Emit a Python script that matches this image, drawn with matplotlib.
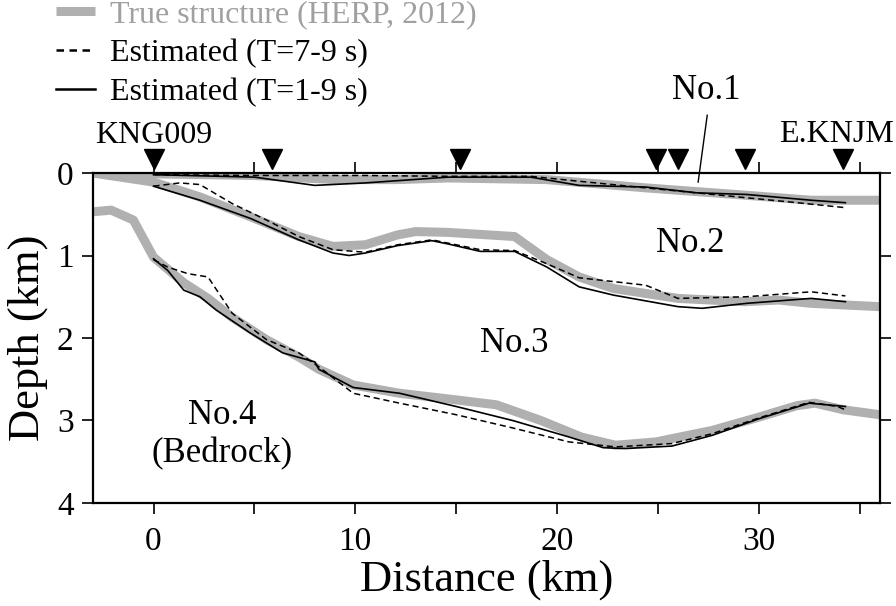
import matplotlib
matplotlib.use("Agg")
import matplotlib.pyplot as plt

plt.rcParams['font.family'] = ['Liberation Serif', 'DejaVu Serif']

# --- true structure (HERP, 2012) ---
true1_x = [-3, 0, 5, 9, 12, 14.6, 19.5, 24.4, 29.4, 32.6, 36]
true1_z = [0.0, 0.01, 0.03, 0.08, 0.08, 0.06, 0.08, 0.18, 0.27, 0.33, 0.33]

true2_x = [-3, 0, 2.3, 4.8, 7.2, 8.9, 10.5, 12.1, 13, 14.6, 17.9, 19.5, 21.1, 22.8, 26, 29.3, 31, 32.6, 36]
true2_z = [0.0, 0.11, 0.29, 0.53, 0.77, 0.89, 0.87, 0.75, 0.71, 0.72, 0.77, 1.05, 1.26, 1.4, 1.52, 1.56, 1.54, 1.58, 1.62]

true3_x = [-3, -2.1, -1, 0, 1.5, 2.7, 3.9, 5.6, 7.2, 8.2, 9.9, 12.2, 15, 17, 19.2, 21.2, 22.9, 24.9, 27.7, 30, 31.9, 32.8, 34.2, 36]
true3_z = [0.47, 0.45, 0.57, 1.02, 1.33, 1.52, 1.75, 2.02, 2.23, 2.38, 2.57, 2.67, 2.75, 2.81, 3.0, 3.2, 3.3, 3.26, 3.12, 2.96, 2.82, 2.79, 2.87, 2.93]

# --- estimated, T=1-9 s (solid) ---
sol1_x = [0, 5, 8, 10.5, 14.6, 18.7, 21.1, 24.4, 26.9, 29.4, 32.6, 34.3]
sol1_z = [0.02, 0.05, 0.15, 0.12, 0.05, 0.05, 0.15, 0.17, 0.24, 0.26, 0.33, 0.36]

sol2_x = [0, 2.3, 4.8, 7.2, 8.9, 9.7, 10.5, 12.1, 13.8, 14.6, 16.2, 17.9, 19.5, 21.1, 22.8, 26, 27.2, 29.4, 32.6, 34.3]
sol2_z = [0.16, 0.33, 0.55, 0.81, 0.97, 1.0, 0.97, 0.88, 0.82, 0.86, 0.95, 0.95, 1.14, 1.38, 1.48, 1.62, 1.64, 1.58, 1.52, 1.56]

sol3_x = [0, 0.7, 1.5, 2.3, 3.1, 4.8, 6.4, 8.0, 8.2, 9.9, 12.2, 15, 17.8, 20.6, 22.3, 23.4, 25.7, 27.7, 30, 32.5, 34.3]
sol3_z = [1.04, 1.18, 1.42, 1.5, 1.66, 1.94, 2.18, 2.29, 2.38, 2.6, 2.67, 2.83, 3.0, 3.2, 3.33, 3.34, 3.31, 3.18, 2.98, 2.79, 2.83]

# --- estimated, T=7-9 s (dashed) ---
das1_x = [0, 5, 10.5, 14.6, 18.7, 21.1, 24.4, 26.9, 29.4, 31.5, 34.3]
das1_z = [0.02, 0.03, 0.03, 0.04, 0.04, 0.1, 0.18, 0.24, 0.3, 0.35, 0.42]

das2_x = [0, 1.3, 2.3, 3.9, 5.6, 7.2, 8.9, 10.5, 12.1, 13.8, 14.6, 16.2, 17.9, 19.5, 21.1, 24.4, 26, 29.4, 32.6, 34.3]
das2_z = [0.16, 0.12, 0.14, 0.37, 0.57, 0.77, 0.93, 0.96, 0.87, 0.81, 0.85, 0.93, 0.94, 1.1, 1.27, 1.36, 1.52, 1.5, 1.44, 1.49]

das3_x = [0, 0.7, 1.7, 2.7, 3.9, 5.6, 7.2, 8.2, 9.9, 12.2, 15, 17.8, 20.6, 22.9, 25.7, 27.7, 30, 32.5, 33.9, 34.3]
das3_z = [1.05, 1.14, 1.22, 1.26, 1.7, 2.02, 2.18, 2.35, 2.67, 2.79, 2.93, 3.09, 3.26, 3.32, 3.28, 3.16, 2.97, 2.78, 2.83, 2.87]

stations_x = [0, 5.85, 15.2, 24.9, 26.0, 29.3, 34.2]

fig = plt.figure(figsize=(8.96, 6.06), dpi=100)
ax = fig.add_axes([0.1038, 0.17, 0.878, 0.5445])

gray = '#b0b0b0'
ax.plot(true1_x, true1_z, color=gray, lw=6.5, solid_capstyle='butt')
ax.plot(true2_x, true2_z, color=gray, lw=6.5, solid_capstyle='butt')
ax.plot(true3_x, true3_z, color=gray, lw=6.5, solid_capstyle='butt')

for xs, zs in [(das1_x, das1_z), (das2_x, das2_z), (das3_x, das3_z)]:
    ax.plot(xs, zs, color='black', lw=1.1, ls=(0, (4, 2.5)))
for xs, zs in [(sol1_x, sol1_z), (sol2_x, sol2_z), (sol3_x, sol3_z)]:
    ax.plot(xs, zs, color='black', lw=1.2)

ax.set_xlim(-3, 36)
ax.set_ylim(4, 0)
ax.set_xticks(range(0, 36, 5))
ax.set_xticklabels(['0', '', '10', '', '20', '', '30', ''])
ax.set_yticks([0, 1, 2, 3, 4])
ax.tick_params(direction='out', length=8, width=1.2, labelsize=24,
               top=True, right=True, pad=6)
ax.tick_params(axis='x', pad=9)
for s in ax.spines.values():
    s.set_linewidth(1.6)

ax.set_xlabel('Distance (km)', fontsize=32, labelpad=2)
ax.set_ylabel('Depth (km)', fontsize=32, labelpad=6)

# stations
ax.plot(stations_x, [-0.17] * len(stations_x), 'v', color='black', ms=14, clip_on=False)
ax.text(0.0, -0.45, 'KNG009', fontsize=23, ha='center', va='center')
ax.text(33.85, -0.47, 'E.KNJM', fontsize=23, ha='center', va='center')

# layer labels
ax.text(27.4, -1.0, 'No.1', fontsize=25, ha='center', va='center')
ax.plot([27.45, 27.0], [-0.70, 0.11], color='black', lw=1.0, clip_on=False)
ax.text(26.6, 0.85, 'No.2', fontsize=25, ha='center', va='center')
ax.text(17.9, 2.07, 'No.3', fontsize=25, ha='center', va='center')
ax.text(3.4, 3.17, 'No.4\n(Bedrock)', fontsize=25, ha='center', va='center', linespacing=1.2)

# legend
h_true = plt.Line2D([], [], color=gray, lw=6.5, solid_capstyle='butt')
h_das = plt.Line2D([], [], color='black', lw=1.8, ls=(0, (3, 2.2)))
h_sol = plt.Line2D([], [], color='black', lw=1.8)
leg = fig.legend([h_true, h_das, h_sol],
                 ['True structure (HERP, 2012)', 'Estimated (T=7-9 s)', 'Estimated (T=1-9 s)'],
                 loc='center left', bbox_to_anchor=(0.062, 0.912), frameon=False,
                 fontsize=23, handlelength=1.25, handletextpad=0.45, labelspacing=0.3,
                 borderpad=0, borderaxespad=0)
leg.get_texts()[0].set_color('#a0a0a0')

fig.savefig('out.png', dpi=100)
